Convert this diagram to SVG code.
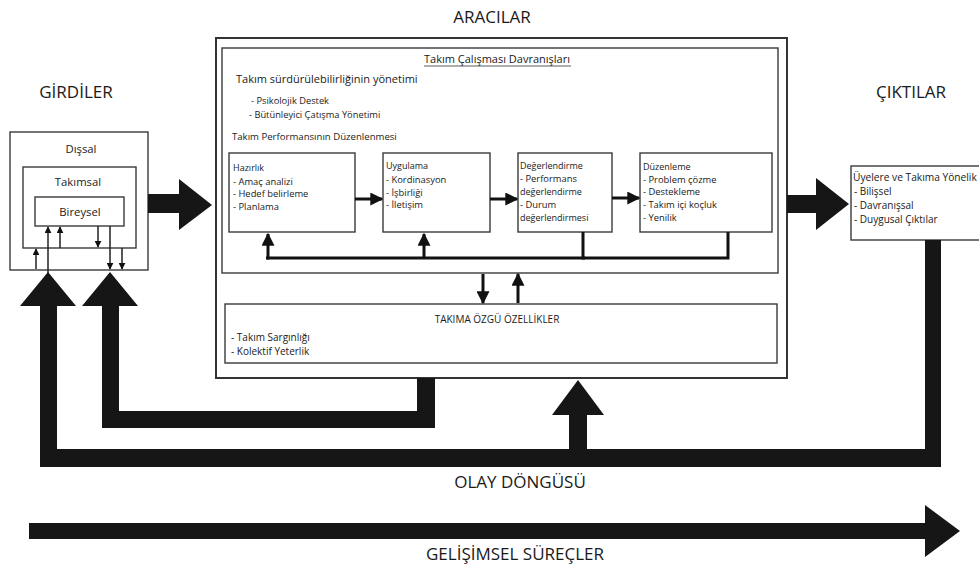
<svg xmlns="http://www.w3.org/2000/svg" width="979" height="565" viewBox="0 0 979 565">
  <defs>
    <style>
      text { font-family: "Open Sans", "Liberation Sans", sans-serif; fill: #1a1a1a; }
      .h1 { font-size: 17px; }
      .h2 { font-size: 11px; }
      .h3 { font-size: 9px; }
      .lv { font-size: 11.3px; }
      .sm { font-size: 9.3px; }
      .pb { font-size: 9.4px; }
      .ph { font-size: 9px; }
      .tt { font-size: 10px; }
      .mid { text-anchor: middle; }
      .box { fill: #fff; stroke: #3a3a3a; stroke-width: 1.4; }
      .frame { fill: #fff; stroke: #333; stroke-width: 2; }
      .thin { stroke: #222; stroke-width: 1.5; fill: none; }
      .med { stroke: #111; stroke-width: 3; fill: none; }
      .bold { fill: #161616; }
    </style>
    <marker id="smallHead" viewBox="0 0 10 10" refX="9" refY="5" markerWidth="7" markerHeight="7" markerUnits="userSpaceOnUse" orient="auto">
      <path d="M0,0 L10,5 L0,10 Z" fill="#111"/>
    </marker>
    <marker id="medHead" viewBox="0 0 10 10" refX="9" refY="5" markerWidth="13" markerHeight="13" markerUnits="userSpaceOnUse" orient="auto">
      <path d="M0,0 L10,5 L0,10 Z" fill="#111"/>
    </marker>
  </defs>

  <rect width="979" height="565" fill="#fff"/>

  <!-- column headings -->
  <text class="h1 mid" x="492" y="23">ARACILAR</text>
  <text class="h1 mid" x="76" y="98">GİRDİLER</text>
  <text class="h1 mid" x="911" y="98">ÇIKTILAR</text>

  <!-- inputs: nested levels -->
  <g id="inputs">
    <rect class="box" x="10" y="132" width="138" height="138"/>
    <text class="lv mid" x="81" y="153">Dışsal</text>
    <rect class="box" x="23" y="167" width="113" height="81"/>
    <text class="lv mid" x="78" y="186">Takımsal</text>
    <rect class="box" x="35" y="197" width="89" height="29"/>
    <text class="lv mid" x="80" y="216">Bireysel</text>
  </g>

  <!-- mediators frame -->
  <g id="mediators">
    <rect class="frame" x="216" y="38" width="571" height="340"/>
    <rect class="box" x="222" y="48" width="556" height="225"/>
    <text class="h2 mid" x="497" y="63">Takım Çalışması Davranışları</text>
    <line x1="424" y1="66" x2="571" y2="66" stroke="#333" stroke-width="0.8"/>
    <text class="h2" x="236" y="83">Takım sürdürülebilirliğinin yönetimi</text>
    <text class="sm" x="251" y="104">- Psikolojik Destek</text>
    <text class="sm" x="249" y="118">-  Bütünleyici Çatışma Yönetimi</text>
    <text class="h3" x="232" y="140" style="font-size:9.6px">Takım Performansının Düzenlenmesi</text>
  </g>

  <g id="hazirlik">
    <rect class="box" x="229" y="153" width="126" height="79"/>
    <text class="ph" x="233" y="171">Hazırlık</text>
    <text class="pb" x="233" y="185"> - Amaç analizi</text>
    <text class="pb" x="233" y="197"> - Hedef belirleme</text>
    <text class="pb" x="233" y="210"> - Planlama</text>
  </g>

  <g id="uygulama">
    <rect class="box" x="383" y="153" width="107" height="79"/>
    <text class="ph" x="386" y="169">Uygulama</text>
    <text class="pb" x="386" y="183"> - Kordinasyon</text>
    <text class="pb" x="386" y="196"> - İşbirliği</text>
    <text class="pb" x="386" y="208"> - İletişim</text>
  </g>

  <g id="degerlendirme">
    <rect class="box" x="518" y="153" width="94" height="79"/>
    <text class="ph" x="520" y="169">Değerlendirme</text>
    <text class="pb" x="520" y="182"> - Performans</text>
    <text class="ph" x="520" y="195">değerlendirme</text>
    <text class="pb" x="520" y="208"> - Durum</text>
    <text class="ph" x="520" y="221">değerlendirmesi</text>
  </g>

  <g id="duzenleme">
    <rect class="box" x="640" y="153" width="132" height="79"/>
    <text class="ph" x="643" y="170">Düzenleme</text>
    <text class="pb" x="643" y="183"> - Problem çözme</text>
    <text class="pb" x="643" y="195"> - Destekleme</text>
    <text class="pb" x="643" y="208"> -  Takım içi koçluk</text>
    <text class="pb" x="643" y="221"> - Yenilik</text>
  </g>

  <g id="team-traits">
    <rect class="box" x="225" y="304" width="552" height="59"/>
    <text class="tt mid" x="497" y="323">TAKIMA ÖZGÜ ÖZELLİKLER</text>
    <text class="tt" x="231" y="341">- Takım Sargınlığı</text>
    <text class="tt" x="231" y="355">- Kolektif Yeterlik</text>
  </g>

  <!-- outputs (runs off the right edge) -->
  <g id="outputs">
    <rect class="box" x="851" y="166" width="140" height="74"/>
    <text class="tt" x="853" y="181" style="font-size:10.2px">Üyelere ve Takıma Yönelik</text>
    <text class="tt" x="854" y="195"> - Bilişsel</text>
    <text class="tt" x="854" y="209"> - Davranışsal</text>
    <text class="tt" x="854" y="223"> - Duygusal Çıktılar</text>
  </g>

  <g id="connectors">
    <!-- small arrows between input levels -->
    <line class="thin" x1="36" y1="269" x2="36" y2="249" marker-end="url(#smallHead)"/>
    <line class="thin" x1="48" y1="274" x2="48" y2="227" marker-end="url(#smallHead)"/>
    <line class="thin" x1="60" y1="248" x2="60" y2="227" marker-end="url(#smallHead)"/>
    <line class="thin" x1="98" y1="226" x2="98" y2="247" marker-end="url(#smallHead)"/>
    <line class="thin" x1="110" y1="226" x2="110" y2="269" marker-end="url(#smallHead)"/>
    <line class="thin" x1="122" y1="248" x2="122" y2="269" marker-end="url(#smallHead)"/>

    <!-- process sequence -->
    <line class="med" x1="355" y1="199" x2="382" y2="199" marker-end="url(#medHead)"/>
    <line class="med" x1="490" y1="199" x2="517" y2="199" marker-end="url(#medHead)"/>
    <line class="med" x1="612" y1="198" x2="639" y2="198" marker-end="url(#medHead)"/>

    <!-- regulation feedback -->
    <polyline class="med" points="583,232 583,258 728,258 728,232"/>
    <line class="med" x1="266" y1="258" x2="585" y2="258"/>
    <line class="med" x1="268" y1="259.5" x2="268" y2="234" marker-end="url(#medHead)"/>
    <line class="med" x1="424" y1="258" x2="424" y2="234" marker-end="url(#medHead)"/>

    <!-- behaviours to/from team traits -->
    <line class="med" x1="483" y1="274" x2="483" y2="303" marker-end="url(#medHead)"/>
    <line class="med" x1="518" y1="303" x2="518" y2="274" marker-end="url(#medHead)"/>

    <!-- block arrows -->
    <polygon class="bold" points="148,194 179,194 179,179 212,205 179,230 179,213 148,213"/>
    <polygon class="bold" points="787,195 816,195 816,178 849,204 816,230 816,213 787,213"/>

    <!-- episodic cycle loops -->
    <polygon class="bold" points="48,272 76,306 57,306 57,449 925,449 925,240 941,240 941,467 40,467 40,306 20,306"/>
    <polygon class="bold" points="110,272 138,306 119,306 119,411 417,411 417,378 435,378 435,428 102,428 102,306 82,306"/>
    <polygon class="bold" points="578,380 604,415 587,415 587,450 569,450 569,415 552,415"/>

    <!-- developmental processes -->
    <polygon class="bold" points="29,523 925,523 925,505 960,531 925,557 925,539 29,539"/>
  </g>

  <text class="h1 mid" x="520" y="488">OLAY DÖNGÜSÜ</text>
  <text class="h1 mid" x="515" y="560">GELİŞİMSEL SÜREÇLER</text>
</svg>
